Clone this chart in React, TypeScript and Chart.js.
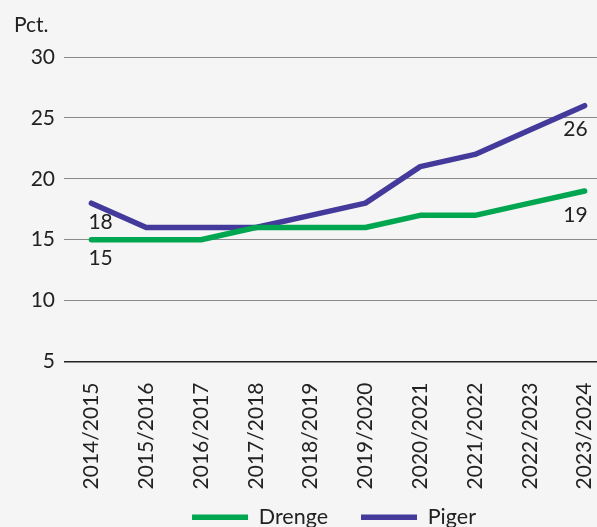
import React, { useEffect, useRef } from 'react';
import { Chart, registerables } from 'chart.js';

Chart.register(...registerables);

const categories = [
  '2014/2015', '2015/2016', '2016/2017', '2017/2018', '2018/2019',
  '2019/2020', '2020/2021', '2021/2022', '2022/2023', '2023/2024',
];
const drengeValues = [15, 15, 15, 16, 16, 16, 17, 17, 18, 19];
const pigerValues = [18, 16, 16, 16, 17, 18, 21, 22, 24, 26];
const yTickValues = [5, 10, 15, 20, 25, 30];
const seriesNames = ['Drenge', 'Piger'];
const unitLabel = 'Pct.';

const FONT = 'Lato';
const TEXT = '#222222';
const GREEN = '#00a650';
const PURPLE = '#433a9b';

export default function App() {
  const ref = useRef<HTMLCanvasElement>(null);

  useEffect(() => {
    const canvas = ref.current;
    if (!canvas) return;

    const legendShift = {
      id: 'legendShift',
      afterLayout(chart: any) {
        const l = chart.legend;
        if (!l) return;
        const dx = -4;
        const dy = -18;
        l.left += dx;
        l.right += dx;
        l.top += dy;
        l.bottom += dy;
      },
    };

    const labelPlugin = {
      id: 'customLabels',
      afterDraw(chart: any) {
        const { ctx, chartArea } = chart;
        ctx.save();
        ctx.font = `21px ${FONT}`;
        ctx.fillStyle = TEXT;
        ctx.textBaseline = 'alphabetic';
        ctx.textAlign = 'left';
        ctx.fillText(unitLabel, chartArea.left - 50, chartArea.top - 25);
        ctx.textBaseline = 'middle';
        chart.data.datasets.forEach((ds: any, i: number) => {
          const meta = chart.getDatasetMeta(i);
          const first = meta.data[0];
          const last = meta.data[meta.data.length - 1];
          ctx.textAlign = 'left';
          ctx.fillText(String(ds.data[0]), first.x - 3, first.y + 19);
          ctx.textAlign = 'right';
          ctx.fillText(String(ds.data[ds.data.length - 1]), last.x + 3, last.y + 24);
        });
        ctx.restore();
      },
    };

    const chart = new Chart(canvas, {
      type: 'line',
      data: {
        labels: categories,
        datasets: [
          {
            label: seriesNames[0],
            data: drengeValues,
            borderColor: GREEN,
            backgroundColor: GREEN,
            borderWidth: 5.5,
            borderCapStyle: 'round',
            borderJoinStyle: 'round',
            pointRadius: 0,
            tension: 0,
          },
          {
            label: seriesNames[1],
            data: pigerValues,
            borderColor: PURPLE,
            backgroundColor: PURPLE,
            borderWidth: 5.5,
            borderCapStyle: 'round',
            borderJoinStyle: 'round',
            pointRadius: 0,
            tension: 0,
          },
        ],
      },
      options: {
        responsive: false,
        animation: false,
        devicePixelRatio: 1,
        layout: { padding: { top: 57, right: 28, left: 0, bottom: 0 } },
        plugins: {
          tooltip: { enabled: false },
          legend: {
            position: 'bottom',
            fullSize: false,
            labels: {
              usePointStyle: true,
              pointStyle: 'line',
              pointStyleWidth: 56,
              font: { family: FONT, size: 21.5 },
              color: TEXT,
              padding: 33,
            },
          },
        },
        scales: {
          x: {
            offset: true,
            grid: { display: false },
            border: { display: false },
            ticks: {
              autoSkip: false,
              maxRotation: 90,
              minRotation: 90,
              padding: 13,
              font: { family: FONT, size: 21 },
              color: TEXT,
            },
            afterFit: (s: any) => { s.height = 130; },
          },
          y: {
            min: 5,
            max: 30,
            afterBuildTicks: (s: any) => { s.ticks = yTickValues.map((v) => ({ value: v })); },
            grid: {
              drawTicks: false,
              color: (c: any) => (c.tick && c.tick.value === 5 ? '#222222' : '#8a8a8a'),
              lineWidth: (c: any) => (c.tick && c.tick.value === 5 ? 1.5 : 1),
            },
            border: { display: false },
            ticks: {
              padding: 9,
              font: { family: FONT, size: 21 },
              color: TEXT,
            },
            afterFit: (s: any) => { s.width = 64; },
          },
        },
      },
      plugins: [legendShift, labelPlugin],
    });

    return () => chart.destroy();
  }, []);

  return (
    <div
      style={{
        position: 'fixed',
        left: 0,
        top: 0,
        width: 597,
        height: 527,
        overflow: 'hidden',
        background: '#f5f5f5',
      }}
    >
      <canvas ref={ref} width={640} height={556} style={{ display: 'block', width: 640, height: 556 }} />
    </div>
  );
}
